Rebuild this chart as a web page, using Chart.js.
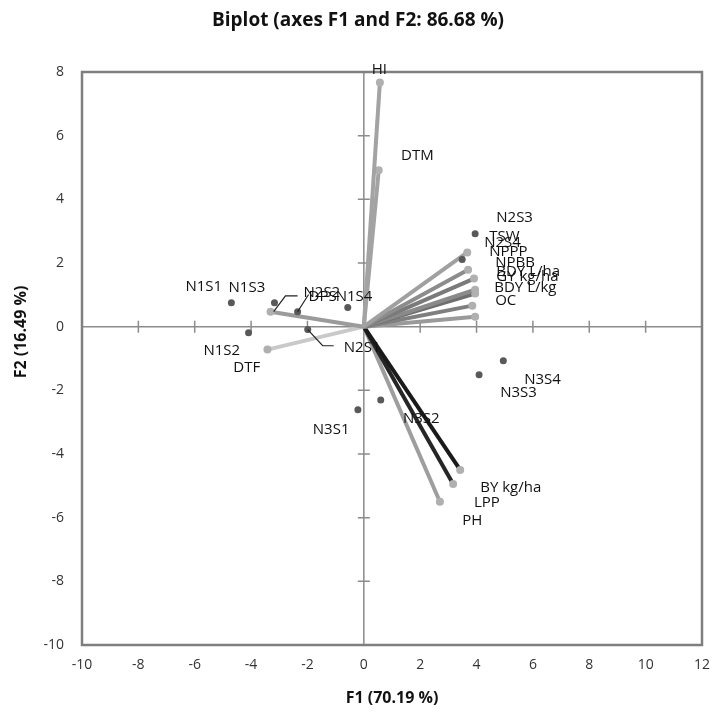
<!DOCTYPE html>
<html>
<head>
<meta charset="utf-8">
<script src="https://cdn.jsdelivr.net/npm/chart.js@4.4.1/dist/chart.umd.min.js"></script>
<style>
  html, body { margin: 0; padding: 0; background: #fff; }
  #wrap { width: 713px; height: 715px; position: relative; }
</style>
</head>
<body>
<div id="wrap"><canvas id="myChart"></canvas></div>
<script>
// observations (dots)
const obsNames = ['N1S1', 'N1S2', 'N1S3', 'N1S4', 'N2S1', 'N2S2', 'N2S3', 'N2S4', 'N3S1', 'N3S2', 'N3S3', 'N3S4'];
const obsF1 = [-4.70, -4.09, -3.17, -0.57, -1.99, -2.35, 3.95, 3.49, -0.21, 0.60, 4.09, 4.95];
const obsF2 = [0.75, -0.19, 0.75, 0.60, -0.09, 0.47, 2.92, 2.11, -2.61, -2.30, -1.51, -1.07];
const obsLabF1 = [-6.33, -5.69, -4.80, -1.00, -0.71, -2.14, 4.70, 4.27, -1.81, 1.39, 4.84, 5.69];
const obsLabF2 = [1.26, -0.75, 1.23, 0.94, -0.66, 1.07, 3.43, 2.64, -3.24, -2.89, -2.08, -1.67];

// variables (vectors)
const varNames = ['HI', 'DTM', 'TSW', 'NPPP', 'NPBB', 'BDY L/ha', 'GY kg/ha', 'BDY L/kg', 'OC', 'DPS', 'DTF', 'BY kg/ha', 'LPP', 'PH'];
const varF1 = [0.57, 0.53, 3.67, 3.70, 3.91, 3.95, 3.95, 3.85, 3.95, -3.31, -3.42, 3.42, 3.17, 2.70];
const varF2 = [7.67, 4.91, 2.33, 1.79, 1.51, 1.16, 1.04, 0.66, 0.31, 0.47, -0.72, -4.50, -4.94, -5.50];
const varLabF1 = [0.28, 1.32, 4.45, 4.45, 4.66, 4.70, 4.70, 4.63, 4.66, -1.96, -4.63, 4.13, 3.91, 3.49];
const varLabF2 = [8.08, 5.38, 2.83, 2.36, 2.01, 1.73, 1.57, 1.23, 0.82, 0.94, -1.29, -5.06, -5.53, -6.10];
const varColors = ['#a3a3a3', '#a3a3a3', '#a0a0a0', '#8c8c8c', '#7a7a7a', '#8a8a8a', '#6e6e6e', '#7f7f7f', '#9a9a9a',
  '#9b9b9b', '#c9c9c9', '#1a1a1a', '#262626', '#9e9e9e'];

// leader lines for dragged labels
const leaders = [
  [[-1.99, -0.09], [-1.46, -0.60], [-1.07, -0.60]],
  [[-2.35, 0.47], [-1.96, 1.01]],
  [[-3.20, 0.47], [-2.78, 0.97], [-2.35, 0.97]]
];

const xTicksMin = -10, xTicksMax = 12, yTicksMin = -10, yTicksMax = 8;

let datasets = [];
varNames.forEach(function (name, i) {
  datasets.push({
    label: name,
    data: [{x: 0, y: 0}, {x: varF1[i], y: varF2[i]}],
    showLine: true,
    borderColor: varColors[i],
    borderWidth: 4,
    pointRadius: [0, 4],
    pointBackgroundColor: '#b0b0b0',
    pointBorderWidth: 0,
    order: 2
  });
});
datasets.push({
  label: 'Observations',
  data: obsF1.map(function (v, i) { return {x: v, y: obsF2[i]}; }),
  showLine: false,
  pointRadius: 3.5,
  pointBackgroundColor: '#595959',
  pointBorderWidth: 0,
  order: 1
});

const biplotPlugin = {
  id: 'biplot',
  beforeDatasetsDraw(chart) {
    const ctx = chart.ctx;
    const a = chart.chartArea;
    const xs = chart.scales.x, ys = chart.scales.y;
    const x0 = xs.getPixelForValue(0), y0 = ys.getPixelForValue(0);
    ctx.save();
    ctx.strokeStyle = '#8c8c8c';
    ctx.lineWidth = 1.5;
    ctx.beginPath();
    ctx.moveTo(a.left, y0); ctx.lineTo(a.right, y0);
    ctx.moveTo(x0, a.top); ctx.lineTo(x0, a.bottom);
    for (let v = xTicksMin + 2; v < xTicksMax; v += 2) {
      if (v === 0) continue;
      const px = xs.getPixelForValue(v);
      ctx.moveTo(px, y0 - 6); ctx.lineTo(px, y0 + 6);
    }
    for (let v = yTicksMin + 2; v < yTicksMax; v += 2) {
      if (v === 0) continue;
      const py = ys.getPixelForValue(v);
      ctx.moveTo(x0 - 6, py); ctx.lineTo(x0 + 6, py);
    }
    ctx.stroke();
    ctx.restore();
  },
  afterDatasetsDraw(chart) {
    const ctx = chart.ctx;
    const a = chart.chartArea;
    const xs = chart.scales.x, ys = chart.scales.y;
    ctx.save();
    // frame
    ctx.strokeStyle = '#7f7f7f';
    ctx.lineWidth = 2.5;
    ctx.strokeRect(a.left, a.top, a.right - a.left, a.bottom - a.top);

    // leader lines
    ctx.strokeStyle = '#222';
    ctx.lineWidth = 1.2;
    leaders.forEach(function (pts) {
      ctx.beginPath();
      pts.forEach(function (p, j) {
        const px = xs.getPixelForValue(p[0]), py = ys.getPixelForValue(p[1]);
        if (j === 0) ctx.moveTo(px, py); else ctx.lineTo(px, py);
      });
      ctx.stroke();
    });

    // point labels
    ctx.fillStyle = '#111';
    ctx.font = '15px "Open Sans"';
    ctx.textAlign = 'left';
    ctx.textBaseline = 'middle';
    obsNames.forEach(function (n, i) {
      ctx.fillText(n, xs.getPixelForValue(obsLabF1[i]), ys.getPixelForValue(obsLabF2[i]));
    });
    varNames.forEach(function (n, i) {
      ctx.fillText(n, xs.getPixelForValue(varLabF1[i]), ys.getPixelForValue(varLabF2[i]));
    });

    // titles
    ctx.fillStyle = '#111';
    ctx.textAlign = 'center';
    ctx.font = 'bold 19px "Open Sans"';
    ctx.fillText('Biplot (axes F1 and F2: 86.68 %)', 358, 21);
    ctx.font = 'bold 16px "Open Sans"';
    ctx.fillText('F1 (70.19 %)', (a.left + a.right) / 2, 698);
    ctx.translate(21, 332);
    ctx.rotate(-Math.PI / 2);
    ctx.fillText('F2 (16.49 %)', 0, 0);
    ctx.restore();
  }
};

var ctx = document.getElementById('myChart').getContext('2d');
var myBiplot = new Chart(ctx, {
  type: 'scatter',
  data: { datasets: datasets },
  options: {
    responsive: true,
    maintainAspectRatio: false,
    animation: false,
    devicePixelRatio: 1,
    layout: { padding: { top: 72, right: 11, left: 0, bottom: 0 } },
    plugins: { legend: { display: false }, tooltip: { enabled: false } },
    scales: {
      x: {
        type: 'linear', min: xTicksMin, max: xTicksMax,
        grid: { display: false, drawTicks: false },
        border: { display: false },
        ticks: { stepSize: 2, padding: 12, color: '#333', font: { family: 'Open Sans', size: 14 } },
        afterFit: function (s) { s.height = 70; s.paddingRight = 0; s.paddingLeft = 0; }
      },
      y: {
        type: 'linear', min: yTicksMin, max: yTicksMax,
        grid: { display: false, drawTicks: false },
        border: { display: false },
        ticks: { stepSize: 2, padding: 18, color: '#333', font: { family: 'Open Sans', size: 14 } },
        afterFit: function (s) { s.width = 82; s.paddingTop = 0; s.paddingBottom = 0; }
      }
    }
  },
  plugins: [biplotPlugin]
});
</script>
</body>
</html>
